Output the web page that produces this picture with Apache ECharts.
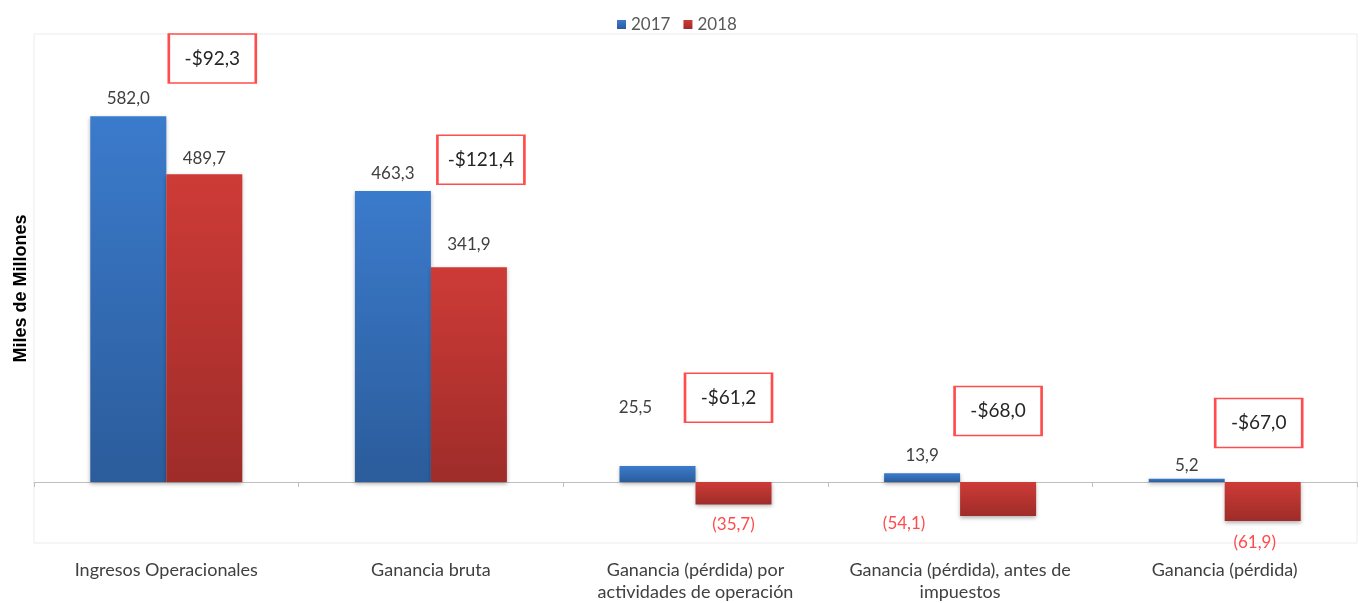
<!DOCTYPE html>
<html>
<head>
<meta charset="utf-8">
<script src="https://cdn.jsdelivr.net/npm/echarts@6/dist/echarts.min.js"></script>
<style>
  html, body { margin: 0; padding: 0; background: #fff; }
  #chart { width: 1362px; height: 603px; }
</style>
</head>
<body>
<div id="chart"></div>
<script>
// datos
const categorias = [
  "Ingresos Operacionales",
  "Ganancia bruta",
  "Ganancia (pérdida) por\nactividades de operación",
  "Ganancia (pérdida), antes de\nimpuestos",
  "Ganancia (pérdida)"
];
const valores2017 = [582.0, 463.3, 25.5, 13.9, 5.2];
const valores2018 = [489.7, 341.9, -35.7, -54.1, -61.9];
const variacion = [-92.3, -121.4, -61.2, -68.0, -67.0];

// layout de anotaciones / etiquetas (no son datos)
const nivelCaja = [674, 513, 134, 113, 94];
const desplCaja = [46, 50, 33, 38, 34];
const despl2017 = [[0, 0], [0, 0], [-22, -41], [0, 0], [0, 4]];
const despl2018 = [[0, 2], [0, -5], [0, 3], [-94, -10], [-8, 4]];

const FONT = "Lato, 'Liberation Sans', sans-serif";
const fmt = v => Math.abs(v).toFixed(1).replace(".", ",");

const grad = (top, bottom) => new echarts.graphic.LinearGradient(0, 0, 0, 1, [
  { offset: 0, color: top },
  { offset: 1, color: bottom }
]);

const barItems = (vals, despl) => vals.map((v, i) => ({
  value: v,
  label: {
    position: v < 0 ? "bottom" : "top",
    offset: despl[i],
    color: v < 0 ? "#FF4B4B" : "#404040"
  }
}));

const chart = echarts.init(document.getElementById("chart"));

const option = {
  animation: false,
  textStyle: { fontFamily: FONT },
  legend: {
    data: ["2017", "2018"],
    top: 11,
    left: 612,
    icon: "rect",
    itemWidth: 9,
    itemHeight: 9,
    itemGap: 13,
    textStyle: { fontSize: 17, color: "#595959", fontFamily: FONT }
  },
  grid: {
    left: 34,
    right: 5,
    top: 34,
    bottom: 60,
    show: true,
    borderColor: "#ececec",
    borderWidth: 1,
    containLabel: false,
    outerBoundsMode: "none"
  },
  xAxis: [
    {
      // eje en cero: línea y marcas
      type: "category",
      data: categorias,
      axisLine: { onZero: true, lineStyle: { color: "#bfbfbf" } },
      axisTick: { show: true, length: 5, lineStyle: { color: "#bfbfbf" } },
      axisLabel: { show: false }
    },
    {
      // etiquetas abajo
      type: "category",
      data: categorias,
      position: "bottom",
      axisLine: { show: false, onZero: false },
      axisTick: { show: false },
      axisLabel: {
        margin: 16,
        interval: 0,
        fontSize: 18,
        lineHeight: 22,
        color: "#404040",
        fontFamily: FONT,
        hideOverlap: false
      }
    }
  ],
  yAxis: {
    type: "value",
    min: -97,
    max: 713,
    name: "Miles de Millones",
    nameLocation: "middle",
    nameGap: 4,
    nameTextStyle: { fontSize: 18, fontWeight: "bold", color: "#000", fontFamily: "'Liberation Sans', Arial, sans-serif" },
    axisLine: { show: false },
    axisTick: { show: false },
    axisLabel: { show: false },
    splitLine: { show: false }
  },
  series: [
    {
      name: "2017",
      type: "bar",
      data: barItems(valores2017, despl2017),
      barWidth: 76,
      barGap: "0%",
      itemStyle: {
        color: grad("#3B7BCC", "#2B5C9B"),
        shadowBlur: 4,
        shadowColor: "rgba(0,0,0,0.3)",
        shadowOffsetY: 2
      },
      label: {
        show: true,
        distance: 9,
        fontSize: 17,
        fontFamily: FONT,
        formatter: p => (p.value < 0 ? "(" + fmt(p.value) + ")" : fmt(p.value))
      }
    },
    {
      name: "2018",
      type: "bar",
      data: barItems(valores2018, despl2018),
      barWidth: 76,
      barGap: "0%",
      itemStyle: {
        color: grad("#CE3B37", "#9E2C29"),
        shadowBlur: 4,
        shadowColor: "rgba(0,0,0,0.3)",
        shadowOffsetY: 2
      },
      label: {
        show: true,
        distance: 9,
        fontSize: 17,
        fontFamily: FONT,
        formatter: p => (p.value < 0 ? "(" + fmt(p.value) + ")" : fmt(p.value))
      }
    },
    {
      name: "Variación",
      type: "scatter",
      data: nivelCaja.map((v, i) => ({ value: [i, v], symbolOffset: [desplCaja[i], 0] })),
      symbol: "rect",
      symbolSize: [87, 49],
      silent: true,
      z: 5,
      itemStyle: {
        color: "#ffffff",
        borderColor: "#FF4D4D",
        borderWidth: 2,
        opacity: 1
      },
      label: {
        show: true,
        position: "inside",
        fontSize: 19,
        color: "#262626",
        fontFamily: FONT,
        formatter: p => (variacion[p.dataIndex] < 0 ? "-$" : "$") + fmt(variacion[p.dataIndex])
      }
    }
  ]
};

chart.setOption(option);
</script>
</body>
</html>
